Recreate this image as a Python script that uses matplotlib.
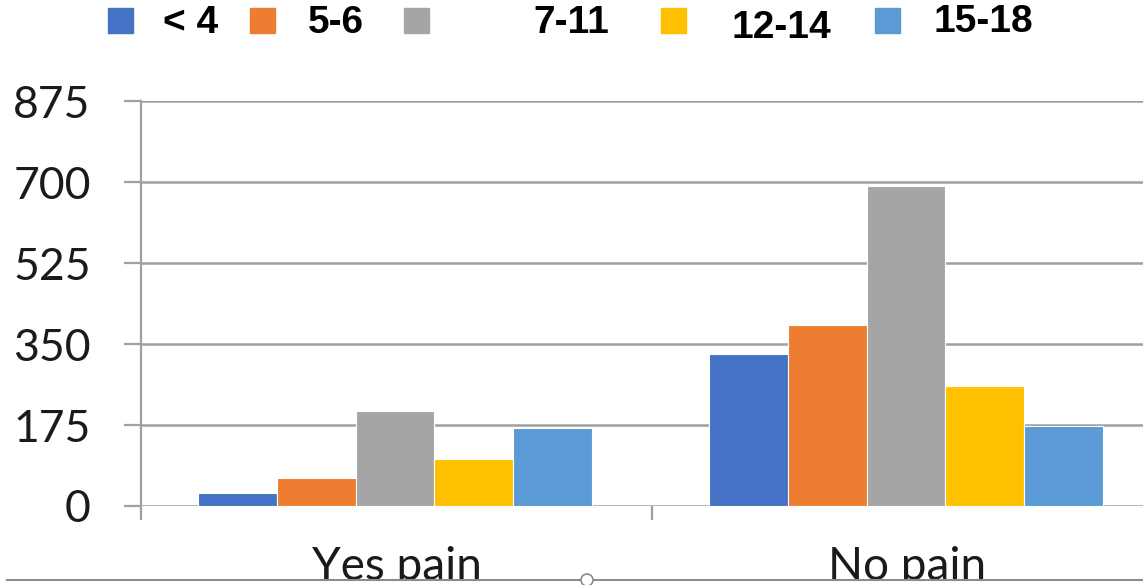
import numpy as np
import matplotlib
matplotlib.use('Agg')
import matplotlib.pyplot as plt
import matplotlib.transforms as mtransforms
from matplotlib.patches import Rectangle, Circle
from matplotlib.lines import Line2D

# Pain reports by age group
groups = ["Yes pain", "No pain"]
age_bands = ["< 4", "5-6", "7-11", "12-14", "15-18"]
counts_lt4 = [28, 328]
counts_5_6 = [61, 390]
counts_7_11 = [205, 691]
counts_12_14 = [101, 259]
counts_15_18 = [168, 173]
yticks = [0, 175, 350, 525, 700, 875]

series = [counts_lt4, counts_5_6, counts_7_11, counts_12_14, counts_15_18]
colors = ['#4472C4', '#ED7D31', '#A5A5A5', '#FFC000', '#5B9BD5']

W, H = 1143, 585
fig = plt.figure(figsize=(W / 100, H / 100), dpi=100)
fig.patch.set_facecolor('white')

# axes spans past the right edge of the canvas
ax = fig.add_axes([141 / W, 1 - 506 / H, 1022 / W, 405 / H])
ax.set_xlim(-0.5, 1.5)
ax.set_ylim(0, 875)

x = np.arange(len(groups))
bw = 0.154
for i, (vals, c) in enumerate(zip(series, colors)):
    ax.bar(x + (i - 2) * bw - 0.003, vals, width=bw, color=c, edgecolor='white',
           linewidth=0.8, zorder=3)

grid_c = '#a0a0a0'
ax.set_yticks(yticks)
ax.set_yticklabels([str(t) for t in yticks], fontsize=32, fontfamily='Lato',
                   color='#1a1a1a')
ax.tick_params(axis='y', direction='out', length=12.2, width=1.6,
               color=grid_c, pad=24)
for t in yticks:
    ax.axhline(t, color=grid_c, lw=1.8, zorder=1)

# category boundary ticks hanging below the zero line
ax.set_xticks([-0.5, 0.5, 1.5])
ax.set_xticklabels([])
ax.tick_params(axis='x', direction='out', length=10, width=1.6, color=grid_c)

for s in ['top', 'right', 'bottom']:
    ax.spines[s].set_visible(False)
ax.spines['left'].set_color(grid_c)
ax.spines['left'].set_linewidth(1.6)

# category labels, baseline near the bottom edge
trans = mtransforms.blended_transform_factory(ax.transData, fig.transFigure)
for xi, g in zip(x, groups):
    ax.text(xi, 1 - 580 / H, g, transform=trans, ha='center', va='baseline',
            fontsize=33, fontfamily='Lato', color='#1a1a1a', clip_on=False)

# legend row across the top
sq_x = [108, 250, 404, 661, 875]
txt_x = [163, 308, 533, 732, 933]
txt_y = [23, 23, 23, 28, 22]
for lbl, c, sx, tx, ty in zip(age_bands, colors, sq_x, txt_x, txt_y):
    fig.patches.append(Rectangle((sx / W, 1 - 33 / H), 25 / W, 25 / H,
                                 transform=fig.transFigure, color=c))
    fig.text(tx / W, 1 - ty / H, lbl, ha='left', va='center', fontsize=28,
             fontweight='bold', fontfamily='Liberation Sans', color='black')

# frame edge at the bottom of the canvas
fig.patches.append(Rectangle((0, 0), 1, 1 - 580 / H, transform=fig.transFigure,
                             color='white', zorder=10))
fig.lines.append(Line2D([7 / W, 1], [1 - 580 / H, 1 - 580 / H],
                        transform=fig.transFigure, color='#8c8c8c', lw=1.5,
                        zorder=11))
fig.patches.append(Circle((587, H - 580), 6, transform=None, facecolor='white',
                          edgecolor='#8c8c8c', lw=1.2, zorder=12))

fig.savefig('out.png', dpi=100, facecolor='white')
plt.close(fig)
